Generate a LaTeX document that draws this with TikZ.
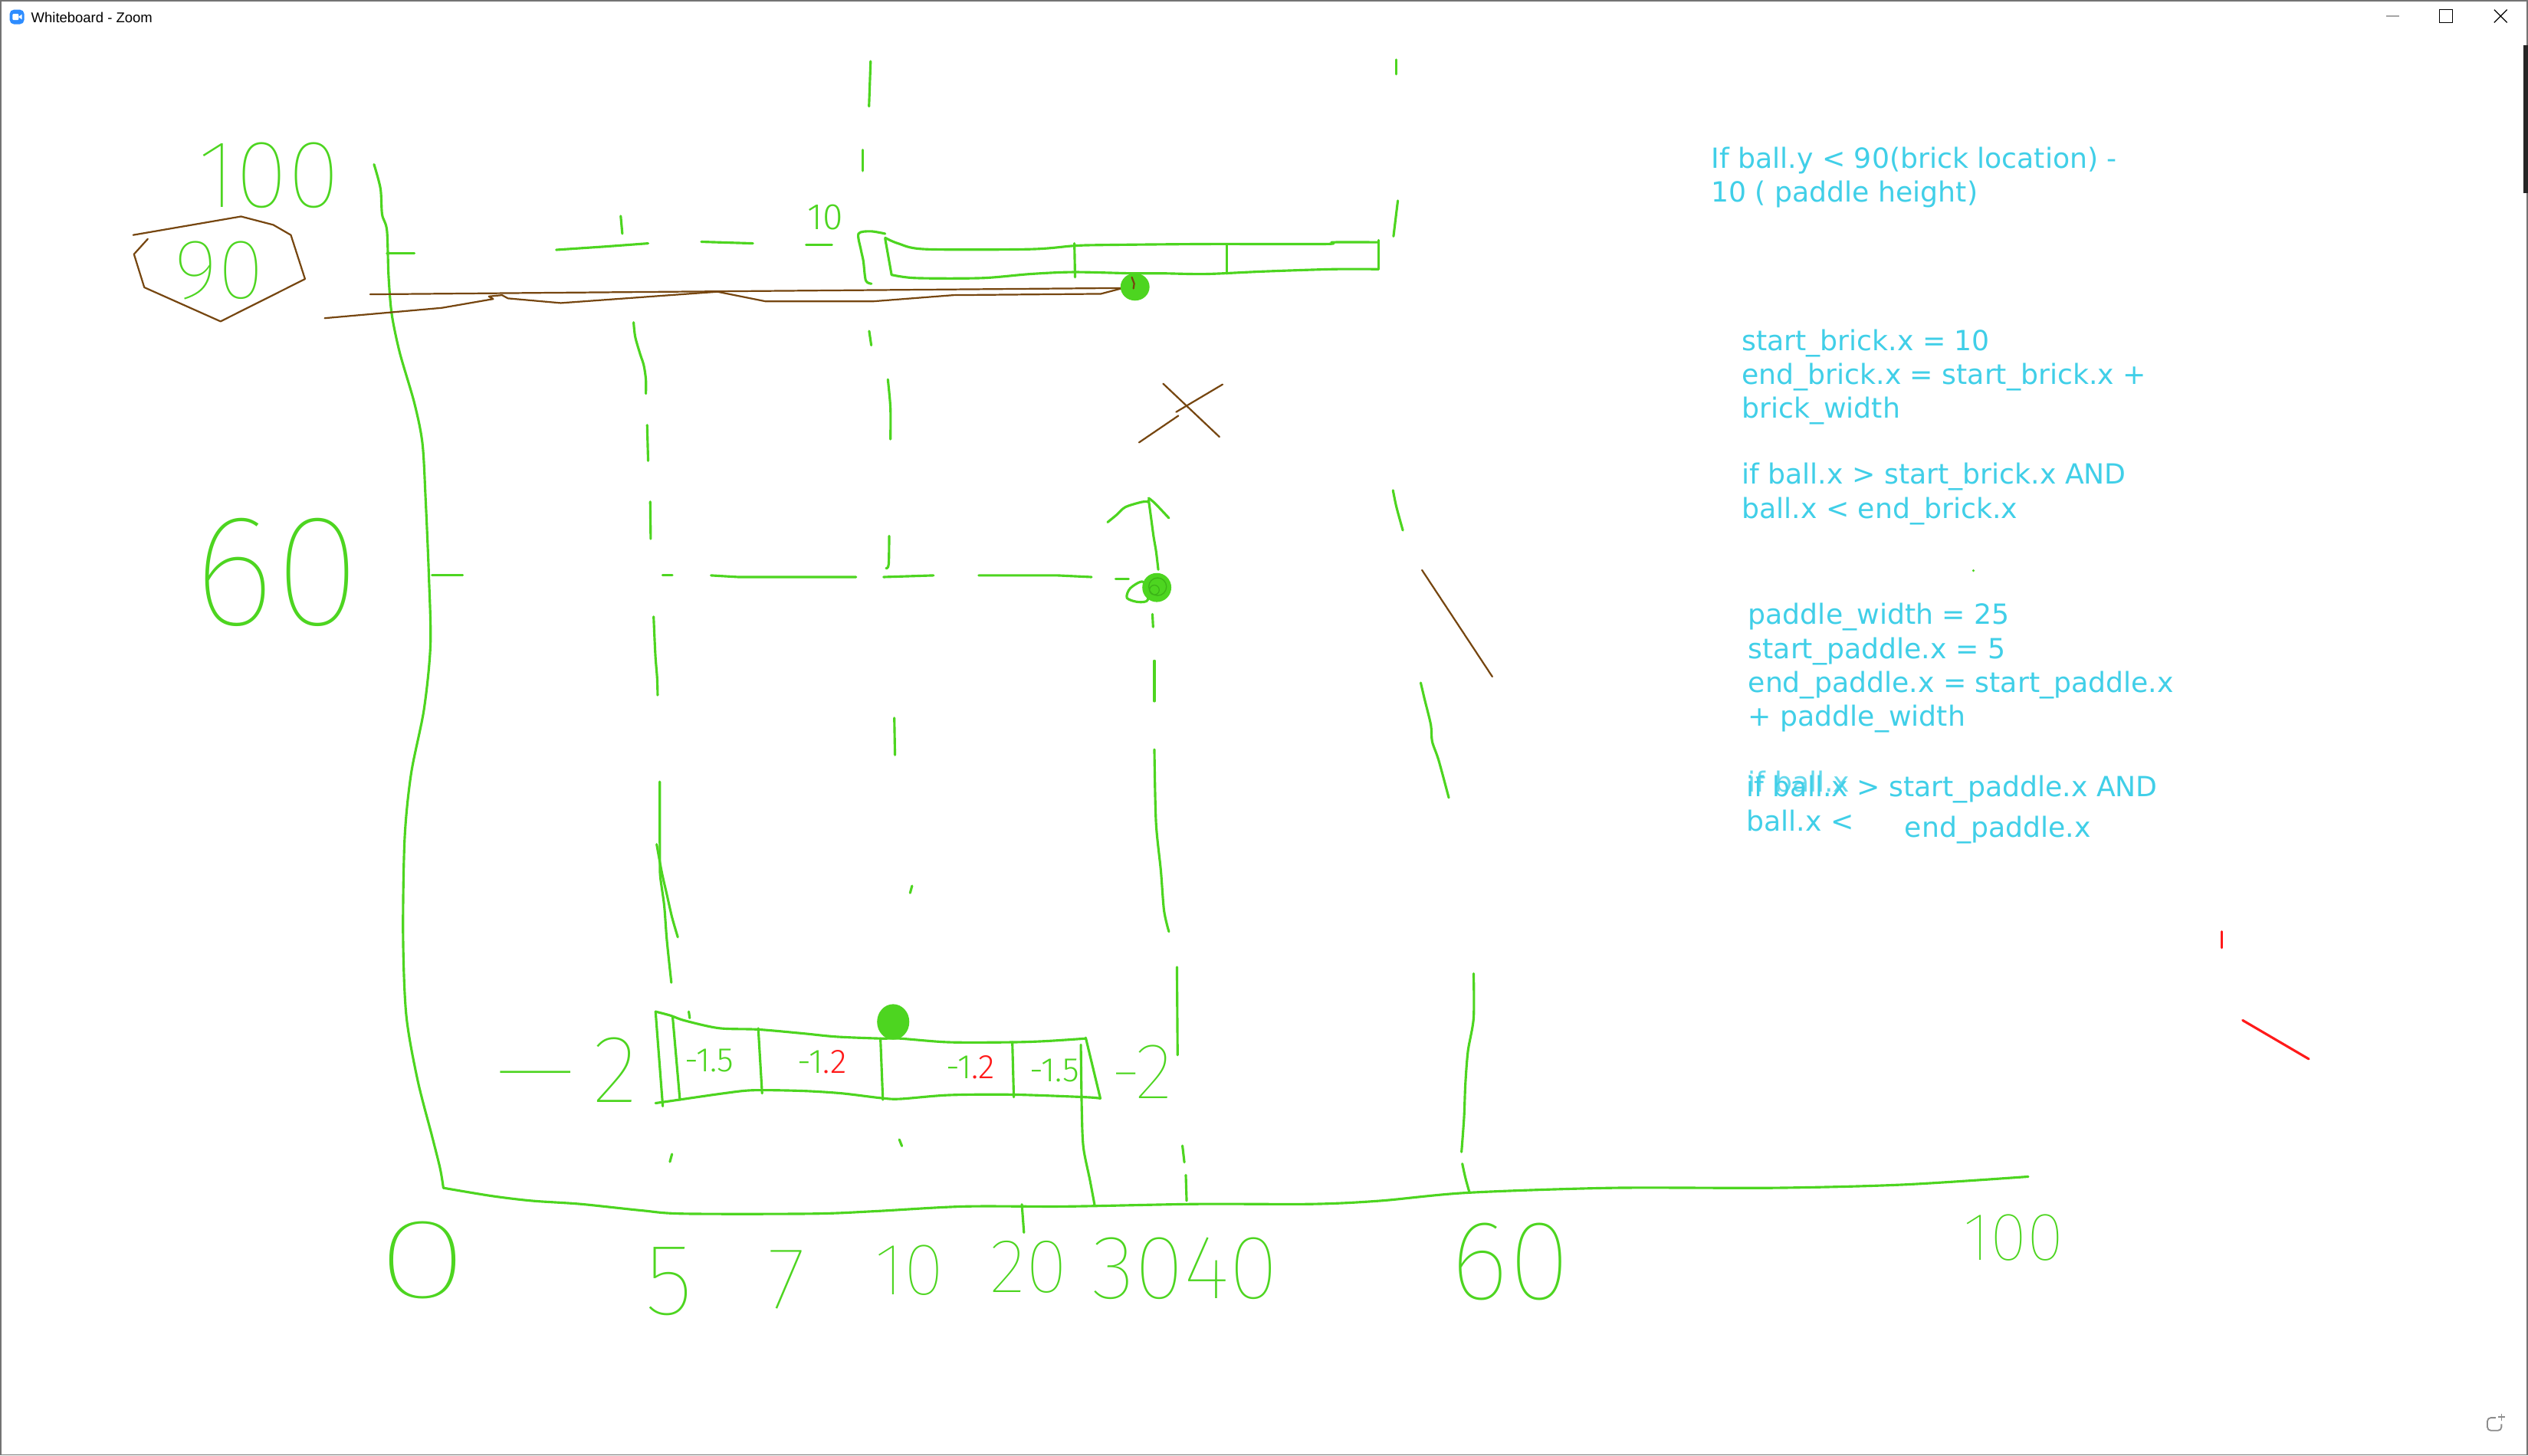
\documentclass[tikz,border=0pt]{standalone}
\usepackage{fontspec}
\usepackage{graphicx}
\setmainfont{DejaVu Sans}
\newfontfamily\titlefont{Liberation Sans}
\newfontfamily\handfont{Fira Sans Light}
\newfontfamily\bighandfont{Fira Sans Thin}
\definecolor{pen}{RGB}{77,213,32}
\definecolor{darkpen}{RGB}{60,180,24}
\definecolor{ink}{RGB}{64,207,232}
\definecolor{wood}{RGB}{118,70,16}
\definecolor{redpen}{RGB}{255,26,26}
\definecolor{zoomblue}{RGB}{45,140,255}
\tikzset{
  penline/.style={pen, line width=0.85pt, line cap=round, line join=round},
  woodline/.style={wood, line width=0.6pt, line cap=round, line join=round},
  redline/.style={redpen, line width=0.85pt, line cap=round},
  note/.style={ink, anchor=north west, inner sep=0pt, align=left, font=\fontsize{9.8}{11.95}\selectfont},
  hand/.style={pen, inner sep=0pt, font=\handfont\fontsize{#1}{#1}\selectfont},
  bighand/.style={pen, inner sep=0pt, font=\bighandfont\fontsize{#1}{#1}\selectfont},
}
\begin{document}
\begin{tikzpicture}[x=0.02cm, y=-0.02cm]
\useasboundingbox (0,0) rectangle (1568,903);
\fill[white] (0,0) rectangle (1568,903);
\draw[black!55, line width=0.5pt] (0.4,0.4) rectangle (1567.6,902.6);

\fill[zoomblue, rounded corners=1.5pt] (6,6) rectangle (15,15);
\fill[white, rounded corners=0.3pt] (7.8,8.6) rectangle (11.6,12.4);
\fill[white] (11.4,10.5) -- (13.6,8.9) -- (13.6,12.1) -- cycle;
\node[anchor=west, inner sep=0pt, font=\titlefont\fontsize{5}{6}\selectfont] (title) at (19,11) {Whiteboard - Zoom};
\draw[black!35, line width=0.3pt] (1480,10) -- (1488,10);
\draw[black, line width=0.35pt] (1513,6) rectangle (1521,14);
\draw[black, line width=0.35pt] (1547,6) -- (1555,14) (1547,14) -- (1555,6);
\fill[black!85] (1565.3,28) rectangle (1568,120);
\draw[black!45, line width=0.5pt, rounded corners=1.2pt] (1548,879.6) -- (1542.8,879.6) -- (1542.8,887.5) -- (1551.5,887.5) -- (1551.5,883.5);
\draw[black!45, line width=0.5pt] (1551.6,877) -- (1551.6,881.4) (1549.4,879.2) -- (1553.8,879.2);

\draw[penline] plot[smooth] coordinates {(232,102) (236,117) (237,133) (240,143) (241,171) (243,195) (248,219) (257,250) (262,275) (264,310) (266,357) (267,400) (263,440) (255,480) (251,520) (250,580) (252,630) (259,670) (268,705) (273,725) (275,737)};
\draw[penline] plot[smooth] coordinates {(275,737) (305,742) (330,745) (360,747) (398,751) (424,753) (504,753) (542,751.5) (598,748.5) (661,748.5) (742,747) (814,747) (856,745) (910,740) (1000,737) (1100,737) (1180,735) (1258,730)};
\draw[penline] (240,157) -- (257,157);
\draw[penline] (268,357) -- (287,357);

\draw[penline] (345,155) -- (375,153) -- (402,151);
\draw[penline] (435,150) -- (467,151);
\draw[penline] (500,152) -- (516,152);
\draw[penline] (385,134) -- (386,145);

\draw[penline] (540,38) -- (539,66);
\draw[penline] (535,93) -- (535,106);
\draw[penline] (866,37) -- (866,46);
\draw[penline] (867,124.5) -- (864.3,146.6);

\draw[penline] plot[smooth] coordinates {(549,145) (540,143.5) (532.5,145) (534,155) (535.5,162) (537,174) (540.5,176)};
\draw[penline] (549,148) -- (553,170.5);
\draw[penline] plot[smooth] coordinates {(549,147.5) (557,151) (574,154.6) (639,154.6) (666,152.5) (683,152) (748,151.4) (822,151.4) (827,150.3) (855,150.3)};
\draw[penline] (855,149) -- (855,167);
\draw[penline] plot[smooth] coordinates {(855,167) (827,167) (784,168.4) (748,170) (721,169.6) (702,169.6) (666,168.8) (639,170) (609,172.5) (568,172.5) (553,170.5)};
\draw[penline] (666.4,151) -- (666.8,172);
\draw[penline] (761,152) -- (761,169.6);
\node[hand=13] (brick10) at (512,135) {10};

\draw[woodline] (229.6,182.6) -- (356.5,181.5) -- (695,178.7);
\draw[woodline] (201.4,197.4) -- (274.1,191) -- (305.9,185.5) -- (303.2,183.9) -- (311.4,183.1) -- (315,185.1) -- (347.8,188) -- (445,181) -- (475,187) -- (541,187) -- (591.4,183.1) -- (682.8,182.3) -- (695,179.1);
\fill[pen] (704,178) ellipse [x radius=9, y radius=8.5];
\draw[woodline] (702,172) -- (703.5,176) -- (703,179);

\draw[penline] plot[smooth] coordinates {(393,200) (394,209) (397,219.5) (399.3,226.6) (400.6,235.4) (400.6,244.2)};
\draw[penline] (401.4,263.7) -- (402,285.9);
\draw[penline] (403.3,311.3) -- (403.6,334.3);
\draw[penline] plot[smooth] coordinates {(405.4,382.6) (406.5,406.6) (407.6,420.7) (407.9,431.3)};
\draw[penline] plot[smooth] coordinates {(409.2,485) (409.3,533.7) (409.6,544.3) (412,562) (413.6,583.1) (416.4,609.6)};
\draw[penline] plot[smooth] coordinates {(407.3,523.8) (410.4,540.8) (413.6,554.9) (416.8,569) (420.4,581.4)};
\draw[penline] (415.5,720.8) -- (416.8,716);

\draw[penline] (539.1,205.4) -- (540.4,214.2);
\draw[penline] plot[smooth] coordinates {(550.7,235.4) (552.3,253.1) (552.3,272.5)};
\draw[penline] plot[smooth] coordinates {(551.5,332.5) (551.2,350.1) (549.6,352.6)};
\draw[penline] (554.7,445.4) -- (555.1,468.4);
\draw[penline] (565.7,549.6) -- (564.5,554);
\draw[penline] (557.8,707) -- (559.4,711);

\draw[penline] (411,357) -- (417,357);
\draw[penline] (441,357) -- (458,358) -- (531,358);
\draw[penline] (548,358) -- (579,357);
\draw[penline] (607,357) -- (656,357) -- (677,358);
\draw[penline] (692,359) -- (700,359);

\draw[penline] plot[smooth] coordinates {(687,324) (692.6,319.4) (698,314.6) (708.4,311.4) (712.4,311.4)};
\draw[penline] plot[smooth] coordinates {(712.4,309) (716.3,312.2) (725,321.4)};
\draw[penline] plot[smooth] coordinates {(712.4,310) (714,321.7) (715.5,332.8) (717.1,342.3) (718.4,353.4)};
\draw[penline] plot[smooth cycle] coordinates {(709,361) (701,365) (699,371) (706,373.5) (712,372)};
\fill[pen] (717.5,364.5) ellipse [x radius=9, y radius=9];
\draw[darkpen, line width=0.35pt] (718,364) circle [radius=5.5] (716,366) circle [radius=3];
\draw[penline] (714.8,381) -- (715.2,389);
\draw[penline] (716,410) -- (716,435);
\draw[penline] plot[smooth] coordinates {(716,465) (717,510) (720,540) (722,565) (725,578)};
\draw[penline] (730,600) -- (730.4,654.6);
\draw[penline] (733.4,710.8) -- (734.6,721.1);
\draw[penline] (735.5,729) -- (736,745);

\draw[woodline] (721.4,238) -- (756.3,271);
\draw[woodline] (758.3,238.5) -- (729.5,255.6);
\draw[woodline] (730.9,257.9) -- (706.5,274.5);

\draw[penline] plot[smooth] coordinates {(864,304.2) (866.1,314.4) (870.1,329)};
\draw[woodline] (882,353.7) -- (925.6,419.8);
\draw[penline] plot[smooth] coordinates {(881.2,423.6) (883.6,433.8) (887.5,449.8) (888.3,460) (892.3,471.6) (898.6,494.9)};
\draw[penline] plot[smooth] coordinates {(914,604) (914,631.7) (910.5,652.1) (908.9,672.5) (908.1,692.9) (906.5,714.7)};
\draw[penline] plot[smooth] coordinates {(907,722) (908.9,730.7) (911.3,739.4)};

\draw[penline] (406.6,627.6) -- (411.1,686.3);
\draw[penline] (417.2,630.8) -- (421.7,682.3);
\draw[penline] plot[smooth] coordinates {(406.6,627.6) (415.7,630) (424.8,633.2) (446,637.9) (470.3,638.7) (497.5,641.1) (518.8,643.2) (546.1,644.3) (558.2,644.3) (588.5,646.6) (627.9,646.6) (649.2,645.9) (673.4,644.3)};
\draw[penline] (673.4,643.8) -- (682.5,681.5);
\draw[penline] plot[smooth] coordinates {(682.5,681.5) (673.4,680.7) (627.9,679.1) (588.5,679.4) (558.2,681.8) (546.1,681.2) (521.8,678.3) (497.5,676.8) (467.2,676.4) (449,678.3) (415.7,683.1) (406.6,684.4)};
\draw[penline] (470.3,638) -- (472.7,678.3);
\draw[penline] (546.1,644.3) -- (547.6,682.3);
\draw[penline] (627.9,646.6) -- (628.8,680.7);
\draw[penline] plot[smooth] coordinates {(670.4,648.2) (671,690) (672,712) (676,732) (679,748)};
\draw[penline] (427.2,627.6) -- (427.8,631.6);
\fill[pen] (554,634) ellipse [x radius=10, y radius=11];

\node[hand=12] (cellA) at (440,658) {-1.5};
\node[hand=12] (cellB) at (510,659) {-1\textcolor{redpen}{.2}};
\node[hand=12] (cellC) at (602,662) {-1\textcolor{redpen}{.2}};
\node[hand=12] (cellD) at (654,664) {-1.5};
\node[bighand=34] (edgeL) at (346,664) {\scalebox{3}[1]{-}2};
\node[bighand=28] (edgeR) at (708,665) {-2};

\node[bighand=34] (y100) at (167,109) {100};
\draw[woodline] (82.6,145.8) -- (149.5,134.3) -- (169.5,139.5) -- (180.4,145.8) -- (189.2,173.1) -- (136.8,199.4) -- (89.5,178.3) -- (83.1,157.7) -- (91.7,148.2);
\node[bighand=30] (y90) at (136,168) {90};
\node[bighand=56] (y60) at (172,355) {60};

\node[bighand=40] (x0) at (262,782) {\scalebox{1.5}[1]{0}};
\node[bighand=36] (x5) at (415,795) {5};
\node[bighand=31] (x7) at (488,794) {7};
\node[bighand=26] (x10) at (564,788) {10};
\node[bighand=27] (x20) at (638,786) {20};
\node[bighand=32] (x3040) at (735,787) {3040};
\node[bighand=40] (x60) at (937,783) {60};
\node[bighand=24] (x100) at (1249,768) {100};
\draw[penline] (633.8,747.2) -- (635.1,764.7);

\node[note] (cond) at (1061,91) {If ball.y < 90(brick location) -\\10 ( paddle height)};
\node[note] (brick) at (1080,204) {start\_brick.x = 10\\end\_brick.x = start\_brick.x +\\brick\_width};
\node[note] (brickhit) at (1080,287) {if ball.x > start\_brick.x AND\\ball.x < end\_brick.x};
\fill[pen] (1224,354) circle [radius=0.8];
\node[note] (paddle) at (1084,374) {paddle\_width = 25\\start\_paddle.x = 5\\end\_paddle.x = start\_paddle.x\\+ paddle\_width};
\node[note] (paddlehit) at (1083,481) {if ball.x > start\_paddle.x AND\\ball.x <};
\node[note, opacity=0.8] (ghost) at (1084,478) {if ball.x};
\node[note] (paddleend) at (1181,506) {end\_paddle.x};

\draw[redline] (1378,578) -- (1378,588);
\draw[redline] (1391,633) -- (1432,657);
\end{tikzpicture}
\end{document}
